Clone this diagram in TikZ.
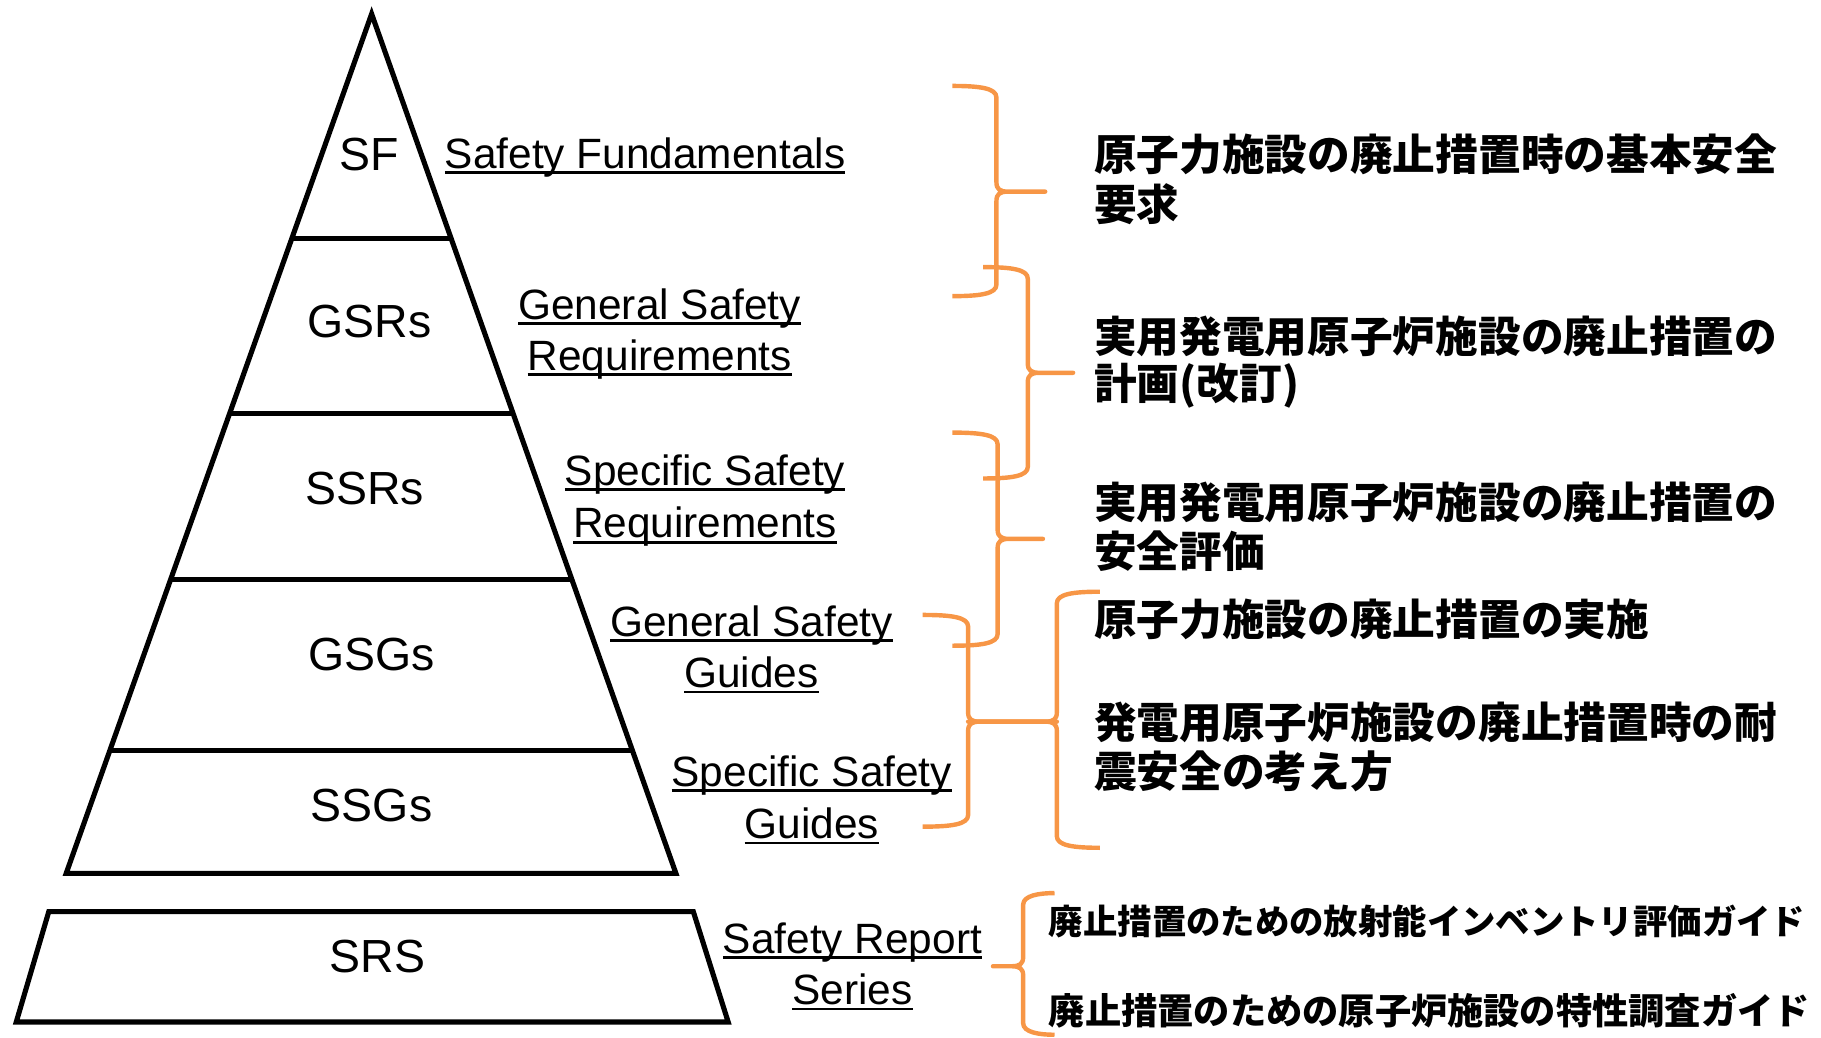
\documentclass[tikz,border=0pt]{standalone}
\usepackage{fontspec}
\setmainfont{Liberation Sans}
\newfontfamily\cjk{Noto Sans CJK JP}
\usetikzlibrary{calc}
\definecolor{braceor}{RGB}{247,150,70}
\newcommand\ulx[1]{\setbox0\hbox{#1}\rlap{\rule[-5pt]{\wd0}{2.4pt}}\box0}
% '}' brace: L S T y1 ym y2
\newcommand\BrR[6]{%
 \draw[bracest] (#1,-#4) .. controls ({#2-14},-#4) and (#2,{-#4-2}) .. (#2,{-#4-10})
   -- (#2,{-#5+8}) .. controls (#2,{-#5+2}) and ({#2+3},-#5) .. ({#2+10},-#5) -- (#3,-#5)
   -- ({#2+10},-#5) .. controls ({#2+3},-#5) and (#2,{-#5-2}) .. (#2,{-#5-8})
   -- (#2,{-#6+10}) .. controls (#2,{-#6+2}) and ({#2-14},-#6) .. (#1,-#6);}
% '{' brace: R S T y1 ym y2
\newcommand\BrL[6]{%
 \draw[bracest] (#1,-#4) .. controls ({#2+14},-#4) and (#2,{-#4-2}) .. (#2,{-#4-10})
   -- (#2,{-#5+8}) .. controls (#2,{-#5+2}) and ({#2-3},-#5) .. ({#2-10},-#5) -- (#3,-#5)
   -- ({#2-10},-#5) .. controls ({#2-3},-#5) and (#2,{-#5-2}) .. (#2,{-#5-8})
   -- (#2,{-#6+10}) .. controls (#2,{-#6+2}) and ({#2+14},-#6) .. (#1,-#6);}
\begin{document}
\begin{tikzpicture}[x=1pt,y=1pt,
  pyr/.style={draw=black, line width=4.4pt},
  bracest/.style={draw=braceor, line width=3.8pt, line join=round},
  lab/.style={font=\fontsize{40}{48}\selectfont, inner sep=0pt},
  eng/.style={font=\fontsize{36.5}{44}\selectfont, inner sep=0pt, anchor=base},
  jp/.style={font=\cjk\bfseries\fontsize{36.75}{44}\selectfont, inner sep=0pt, anchor=west},
  jps/.style={font=\cjk\bfseries\fontsize{29.6}{36}\selectfont, inner sep=0pt, anchor=west},
  jpt/.style={font=\cjk\bfseries\fontsize{31.2}{36}\selectfont, inner sep=0pt, anchor=west}]
\useasboundingbox (0,0) rectangle (1568,-893);
% pyramid
\coordinate (apex) at (320,-12);
\coordinate (bl) at (57,-752);
\coordinate (br) at (582,-752);
\draw[pyr, line join=miter] (bl) -- (apex) -- (br) -- cycle;
\foreach \t/\n in {0.2615/a,0.4649/b,0.6577/c,0.8571/d}{
  \draw[pyr] ($(apex)!\t!(bl)$) -- ($(apex)!\t!(br)$);
}
% SRS trapezoid
\draw[pyr, line join=miter] (14,-880) -- (42,-785) -- (597,-785) -- (627,-880) -- cycle;
% pyramid labels
\node[lab] (sf)   at (318,-133) {SF};
\node[lab] (gsrs) at (318,-277) {GSRs};
\node[lab] (ssrs) at (314,-421) {SSRs};
\node[lab] (gsgs) at (320,-564) {GSGs};
\node[lab] (ssgs) at (320,-694) {SSGs};
\node[lab] (srs)  at (325,-824) {SRS};
% English labels
\node[eng] (e1)  at (555.5,-145) {\ulx{Safety Fundamentals}};
\node[eng] (e2a) at (568,-275) {\ulx{General Safety}};
\node[eng] (e2b) at (568,-319) {\ulx{Requirements}};
\node[eng] (e3a) at (607,-418) {\ulx{Specific Safety}};
\node[eng] (e3b) at (607,-463) {\ulx{Requirements}};
\node[eng] (e4a) at (647,-548) {\ulx{General Safety}};
\node[eng] (e4b) at (647,-592) {\ulx{Guides}};
\node[eng] (e5a) at (699,-677) {\ulx{Specific Safety}};
\node[eng] (e5b) at (699,-722) {\ulx{Guides}};
\node[eng] (e6a) at (734,-821) {\ulx{Safety Report}};
\node[eng] (e6b) at (734,-865) {\ulx{Series}};
% Japanese texts
\node[jp] (j1a) at (942,-133) {原子力施設の廃止措置時の基本安全};
\node[jp] (j1b) at (942,-176) {要求};
\node[jp] (j2a) at (942,-290) {実用発電用原子炉施設の廃止措置の};
\node[jp] (j2b) at (942,-332) {計画(改訂)};
\node[jp] (j3a) at (942,-433) {実用発電用原子炉施設の廃止措置の};
\node[jp] (j3b) at (942,-475) {安全評価};
\node[jp] (j4)  at (942,-533) {原子力施設の廃止措置の実施};
\node[jp] (j5a) at (942,-622) {発電用原子炉施設の廃止措置時の耐};
\node[jp] (j5b) at (942,-664) {震安全の考え方};
\node[jps] (j6) at (903,-793) {廃止措置のための放射能インベントリ評価ガイド};
\node[jpt] (j7) at (903,-870) {廃止措置のための原子炉施設の特性調査ガイド};
% braces
\BrR{820}{858}{900}{74}{165}{255}
\BrR{846.6}{885}{924}{230}{321}{412}
\BrR{820}{859}{898}{372.5}{464}{556}
\BrR{794.5}{833.6}{910}{529.5}{621.4}{711.8}
\BrL{947}{910}{833.6}{509.5}{621.4}{730}
\BrL{908}{881}{855}{769}{832}{891}
\end{tikzpicture}
\end{document}
